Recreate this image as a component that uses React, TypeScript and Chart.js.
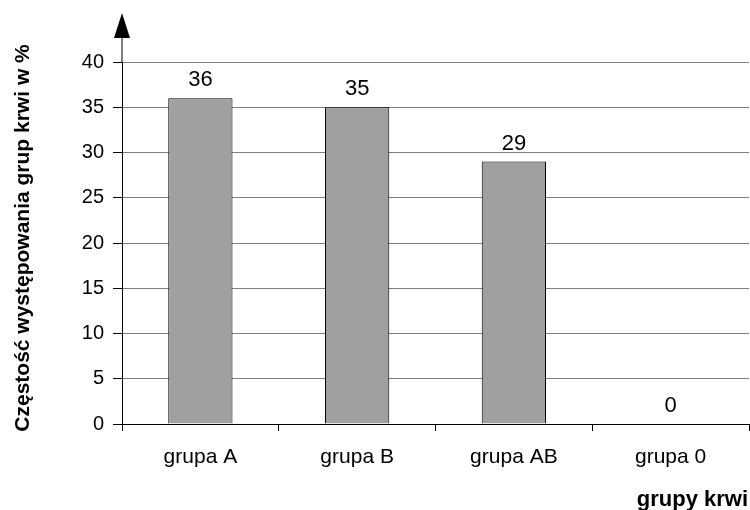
import React, { useEffect, useRef } from "react";
import { Chart, registerables } from "chart.js";

Chart.register(...registerables);

const categories = ["grupa A", "grupa B", "grupa AB", "grupa 0"];
const values = [36, 35, 29, 0];
const yMin = 0;
const yMax = 40;
const yStep = 5;
const yTitle = "Częstość występowania grup krwi w %";
const xTitle = "grupy krwi";

const FONT = "'Liberation Sans', Arial, sans-serif";

export default function App() {
  const ref = useRef<HTMLCanvasElement | null>(null);

  useEffect(() => {
    if (!ref.current) return;
    const overlay = {
      id: "overlay",
      afterDraw(chart: any) {
        const ctx = chart.ctx;
        const area = chart.chartArea;
        ctx.save();
        const ax = area.left;
        ctx.strokeStyle = "#000";
        ctx.lineWidth = 1;
        ctx.beginPath();
        ctx.moveTo(ax, area.top);
        ctx.lineTo(ax, 36);
        ctx.stroke();
        ctx.fillStyle = "#000";
        ctx.beginPath();
        ctx.moveTo(ax, 13);
        ctx.lineTo(ax - 8, 38);
        ctx.lineTo(ax + 8, 38);
        ctx.closePath();
        ctx.fill();
        const meta = chart.getDatasetMeta(0);
        ctx.font = `22px ${FONT}`;
        ctx.textAlign = "center";
        ctx.textBaseline = "alphabetic";
        meta.data.forEach((bar: any, i: number) => {
          ctx.fillText(String(values[i]), bar.x, bar.y - 12);
        });
        ctx.font = `bold 22px ${FONT}`;
        ctx.textAlign = "right";
        ctx.fillText(xTitle, 748, 506);
        ctx.font = `bold 21px ${FONT}`;
        ctx.translate(29, (area.top + area.bottom) / 2 - 5);
        ctx.rotate(-Math.PI / 2);
        ctx.textAlign = "center";
        ctx.fillText(yTitle, 0, 0);
        ctx.restore();
      },
    };

    const chart = new Chart(ref.current, {
      type: "bar",
      data: {
        labels: categories,
        datasets: [
          {
            data: values,
            backgroundColor: "#a0a0a0",
            borderColor: "#000",
            borderWidth: 1,
            barPercentage: 0.41,
            categoryPercentage: 1,
          },
        ],
      },
      options: {
        animation: false,
        responsive: false,
        devicePixelRatio: 1,
        layout: { padding: { top: 62, right: 1, left: 0, bottom: 0 } },
        plugins: {
          legend: { display: false },
          tooltip: { enabled: false },
        },
        scales: {
          x: {
            grid: {
              display: true,
              drawOnChartArea: false,
              offset: true,
              tickColor: "#000",
              tickLength: 7,
            },
            border: { color: "#000", width: 1 },
            ticks: {
              color: "#000",
              font: { family: FONT, size: 21 },
              padding: 14,
              maxRotation: 0,
            },
            afterFit(scale: any) {
              scale.height = 86;
            },
          },
          y: {
            min: yMin,
            max: yMax,
            ticks: {
              stepSize: yStep,
              color: "#000",
              font: { family: FONT, size: 20 },
              padding: 9,
            },
            grid: {
              color: "#808080",
              tickColor: "#000",
              tickLength: 9,
            },
            border: { color: "#000", width: 1 },
            afterFit(scale: any) {
              scale.width = 122;
            },
          },
        },
      },
      plugins: [overlay],
    });
    return () => chart.destroy();
  }, []);

  return (
    <div style={{ position: "fixed", left: 0, top: 0, width: 750, height: 510, background: "#fff" }}>
      <canvas ref={ref} width={750} height={510} />
    </div>
  );
}
